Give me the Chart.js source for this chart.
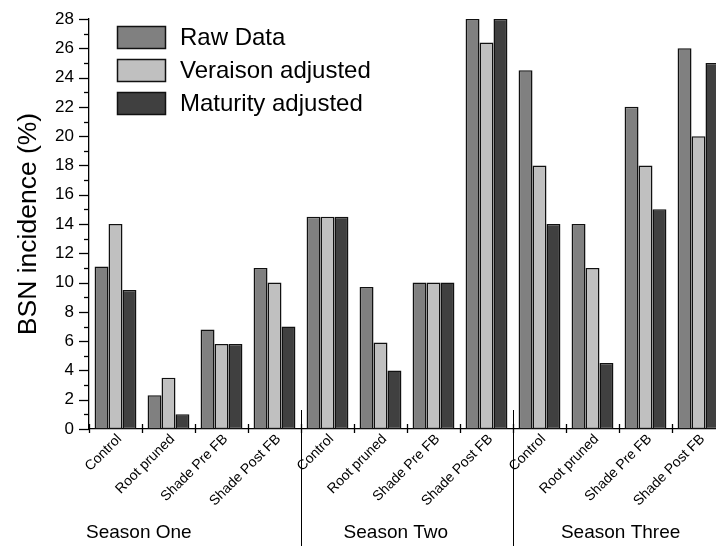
<!DOCTYPE html>
<html>
<head>
<meta charset="utf-8">
<script src="https://cdn.jsdelivr.net/npm/chart.js@4/dist/chart.umd.min.js"></script>
<style>
  html, body { margin: 0; padding: 0; background: #fff; overflow: hidden; }
  #wrap { width: 716px; height: 546px; overflow: hidden; position: relative; }
  canvas { display: block; }
</style>
</head>
<body>
<div id="wrap"><canvas id="chart" width="736" height="546"></canvas></div>
<script>
// Seasons and treatments along the x axis
const seasons = ['Season One', 'Season Two', 'Season Three'];
const treatments = ['Control', 'Root pruned', 'Shade Pre FB', 'Shade Post FB'];
const categories = seasons.flatMap(() => treatments);

// Series names and BSN incidence (%) per treatment, season by season
const seriesNames = ['Raw Data', 'Veraison adjusted', 'Maturity adjusted'];
const rawData       = [11.1, 2.3, 6.8, 11.0, 14.5, 9.7, 10.0, 28.0, 24.5, 14.0, 22.0, 26.0];
const veraisonAdj   = [14.0, 3.5, 5.8, 10.0, 14.5, 5.9, 10.0, 26.4, 18.0, 11.0, 18.0, 20.0];
const maturityAdj   = [ 9.5, 1.0, 5.8,  7.0, 14.5, 4.0, 10.0, 28.0, 14.0,  4.5, 15.0, 25.0];

// Y axis tick labels (minor ticks fall between them)
const yTickLabels = [0, 2, 4, 6, 8, 10, 12, 14, 16, 18, 20, 22, 24, 26, 28];

const FONT = "'Liberation Sans', Arial, sans-serif";
Chart.defaults.font.family = FONT;
Chart.defaults.color = '#000';

const fills = ['#808080', '#c0c0c0', '#404040'];
const seriesValues = [rawData, veraisonAdj, maturityAdj];

// Tick marks, season dividers, season names and the legend box
const decorations = {
  id: 'decorations',
  afterDraw(chart) {
    const ctx = chart.ctx;
    const xs = chart.scales.x, ys = chart.scales.y;
    ctx.save();
    ctx.strokeStyle = '#000';
    ctx.lineWidth = 1.3;
    const line = (x1, y1, x2, y2) => { ctx.beginPath(); ctx.moveTo(x1, y1); ctx.lineTo(x2, y2); ctx.stroke(); };

    // y ticks: long at labelled values, short in between
    const yMax = yTickLabels[yTickLabels.length - 1];
    for (let v = 0; v <= yMax; v++) {
      const py = Math.round(ys.getPixelForValue(v)) + 0.5;
      const len = yTickLabels.includes(v) ? 10 : 5;
      line(ys.right - len, py, ys.right, py);
    }
    // x ticks at category boundaries, crossing the axis
    for (let i = 0; i <= categories.length; i++) {
      const px = Math.round(xs.getPixelForValue(i - 0.5)) + 0.5;
      line(px, xs.top - 5, px, xs.top + 4);
    }
    // season dividers
    ctx.lineWidth = 1;
    for (let s = 1; s < seasons.length; s++) {
      const px = Math.round(xs.getPixelForValue(s * treatments.length - 0.5)) + 0.5;
      line(px, xs.top - 19, px, chart.height);
    }
    // season names
    const seasonAnchors = [0.44, 5.29, 9.53];
    ctx.fillStyle = '#000';
    ctx.font = '19px ' + FONT;
    ctx.textAlign = 'center';
    ctx.textBaseline = 'alphabetic';
    seasons.forEach((name, s) => {
      ctx.fillText(name, xs.getPixelForValue(seasonAnchors[s]), 538);
    });

    // legend
    const lx = chart.chartArea.left + 28, ly = 26;
    ctx.font = '24px ' + FONT;
    ctx.textAlign = 'left';
    ctx.textBaseline = 'middle';
    chart.data.datasets.forEach((ds, i) => {
      const top = ly + i * 33;
      ctx.fillStyle = ds.backgroundColor;
      ctx.fillRect(lx, top, 49, 23);
      ctx.strokeStyle = '#111';
      ctx.lineWidth = 1.5;
      ctx.strokeRect(lx + 0.5, top + 0.5, 48, 22);
      ctx.fillStyle = '#000';
      ctx.fillText(ds.label, lx + 63, top + 12);
    });
    ctx.restore();
  }
};

new Chart(document.getElementById('chart'), {
  type: 'bar',
  data: {
    labels: categories,
    datasets: seriesNames.map((name, i) => ({
      label: name,
      data: seriesValues[i],
      backgroundColor: fills[i],
      borderColor: '#111',
      borderWidth: 1.5,
      borderSkipped: false,
      categoryPercentage: 0.79,
      barPercentage: 1.0
    }))
  },
  options: {
    responsive: false,
    animation: false,
    devicePixelRatio: 1,
    layout: { padding: { left: 0, top: 19, right: 11, bottom: 0 } },
    plugins: { legend: { display: false }, tooltip: { enabled: false } },
    scales: {
      x: {
        offset: true,
        grid: { display: false, drawTicks: false, tickLength: 0 },
        border: { display: true, color: '#000', width: 1.3 },
        ticks: {
          autoSkip: false,
          minRotation: 45,
          maxRotation: 45,
          labelOffset: 4,
          padding: 2,
          font: { size: 14 },
          color: '#000'
        },
        afterFit(scale) {
          scale.height = 117;
          scale.paddingLeft = 0;
          scale.paddingRight = 0;
        }
      },
      y: {
        min: 0,
        max: yTickLabels[yTickLabels.length - 1],
        grid: { display: false, drawTicks: false, tickLength: 0 },
        border: { display: true, color: '#000', width: 1.3 },
        ticks: {
          stepSize: 1,
          autoSkip: false,
          padding: 15,
          font: { size: 17 },
          color: '#000',
          callback: v => (yTickLabels.includes(v) ? String(v) : '')
        },
        title: {
          display: true,
          text: 'BSN incidence (%)',
          font: { size: 26.5 },
          color: '#000',
          padding: { top: 13, bottom: 0 }
        },
        afterFit(scale) {
          scale.width = 89;
          scale.paddingTop = 0;
          scale.paddingBottom = 0;
        }
      }
    }
  },
  plugins: [decorations]
});
</script>
</body>
</html>
